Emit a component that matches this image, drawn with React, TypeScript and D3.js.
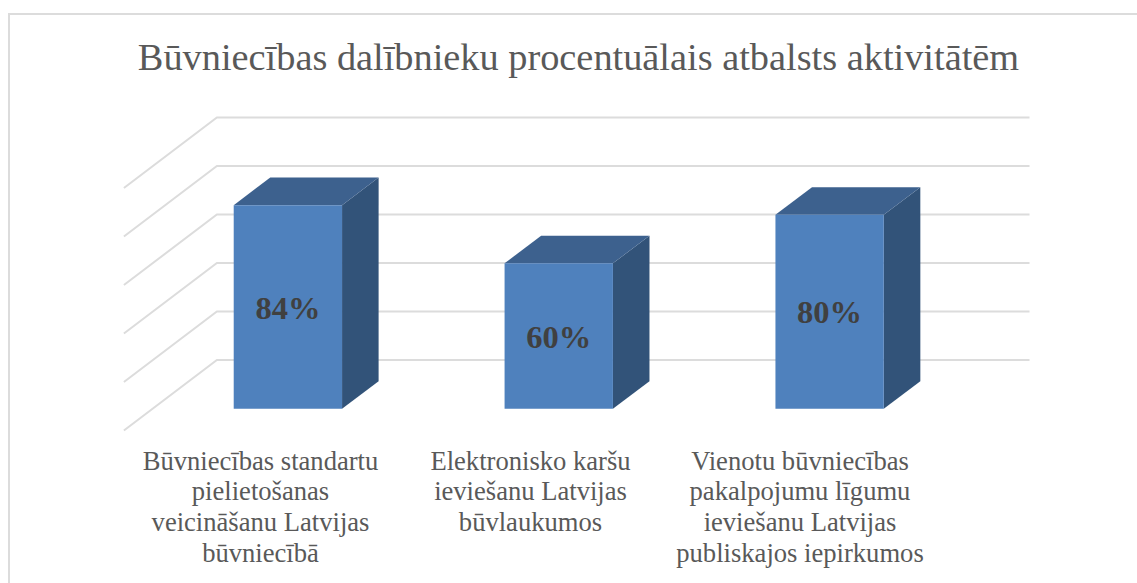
import React from "react";
import * as d3 from "d3";

const categories = [
  ["Būvniecības standartu", "pielietošanas", "veicināšanu Latvijas", "būvniecībā"],
  ["Elektronisko karšu", "ieviešanu Latvijas", "būvlaukumos"],
  ["Vienotu būvniecības", "pakalpojumu līgumu", "ieviešanu Latvijas", "publiskajos iepirkumos"],
];
const values = [84, 60, 80];
const labels = ["84%", "60%", "80%"];
const gridValues = [0, 20, 40, 60, 80, 100];
const title = "Būvniecības dalībnieku procentuālais atbalsts aktivitātēm";

const W = 1137, H = 583;
const FONT = "'Liberation Serif', serif";

export default function App() {
  const ids = categories.map((_, i) => i);
  const x = d3.scaleBand<number>().domain(ids).range([216.9, 1029.5]).paddingInner(0.6).paddingOuter(0.3);
  const y = d3.scaleLinear().domain([0, 100]).range([360, 117.5]);
  const dx = -93, dy = 70.5;
  const near = 0.693, far = 0.3;
  const pr = (px: number, v: number, d: number): [number, number] => [px + dx * d, y(v) + dy * d];
  const poly = (pts: [number, number][]) => d3.line()(pts)! + "Z";
  const centers = [260.5, 530.5, 800];

  return (
    <svg width={W} height={H} viewBox={`0 0 ${W} ${H}`} style={{ position: "absolute", left: 0, top: 0, background: "#fff" }}>
      <path d={`M9 ${H}V14H${W}`} fill="none" stroke="#dcdcdc" strokeWidth={2} />
      <text x={578.5} y={70} textAnchor="middle" fontFamily={FONT} fontSize={38.35} fill="#595959">{title}</text>
      {gridValues.map((v) => (
        <path key={v} d={d3.line()([pr(216.9, v, 1), pr(216.9, v, 0), pr(1029.5, v, 0)])!} fill="none" stroke="#dcdcdc" strokeWidth={2} />
      ))}
      {values.map((v, i) => {
        const l = x(i)!, r = l + x.bandwidth();
        return (
          <g key={i}>
            <path d={poly([pr(r, 0, near), pr(r, 0, far), pr(r, v, far), pr(r, v, near)])} fill="#325379" />
            <path d={poly([pr(l, v, near), pr(r, v, near), pr(r, v, far), pr(l, v, far)])} fill="#3d618e" />
            <path d={poly([pr(l, 0, near), pr(r, 0, near), pr(r, v, near), pr(l, v, near)])} fill="#4f81bd" />
            <text x={(pr(l, 0, near)[0] + pr(r, 0, near)[0]) / 2} y={(pr(l, 0, near)[1] + pr(l, v, near)[1]) / 2 + 11.5} textAnchor="middle" fontFamily={FONT} fontWeight="bold" fontSize={32.5} fill="#404040">{labels[i]}</text>
          </g>
        );
      })}
      {categories.map((lines, i) => (
        <text key={i} textAnchor="middle" fontFamily={FONT} fontSize={26.6} fill="#595959">
          {lines.map((t, j) => (
            <tspan key={j} x={centers[i]} y={469.5 + j * 30.7}>{t}</tspan>
          ))}
        </text>
      ))}
    </svg>
  );
}
